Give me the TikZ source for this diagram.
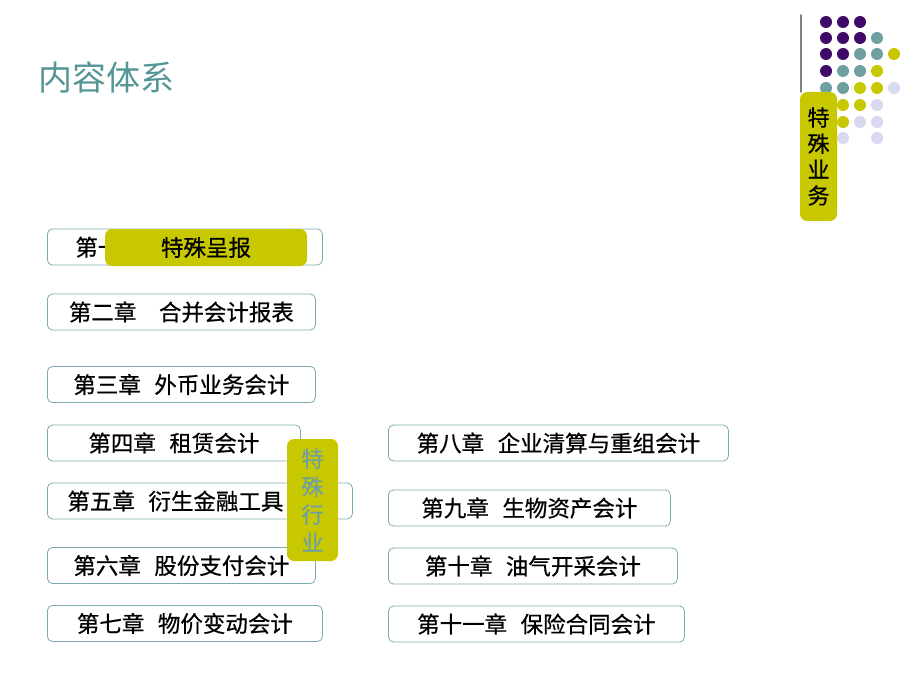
\documentclass[tikz,border=0pt]{standalone}
\usepackage{fontspec}
\usepackage{xcolor}
\usepackage{tikz}
\newfontfamily\cjk{Noto Sans CJK SC}
\newfontfamily\cjkdark[FakeBold=0.6]{Noto Sans CJK SC}
\definecolor{boxline}{RGB}{125,172,176}
\definecolor{hiyellow}{RGB}{200,200,0}
\definecolor{titleteal}{RGB}{84,150,150}
\definecolor{dotpurple}{RGB}{64,10,104}
\definecolor{dotteal}{RGB}{111,160,160}
\definecolor{dotlav}{RGB}{216,216,240}

\begin{document}
\begin{tikzpicture}[x=1pt,y=-1pt,line cap=round,line join=round,
  chap/.style={draw=boxline,line width=0.8pt,rounded corners=5pt,anchor=west,
    minimum height=36pt,inner ysep=0pt,font=\cjkdark\fontsize{22.5}{22.5}\selectfont},
  hilite/.style={fill=hiyellow,rounded corners=7pt,inner sep=0pt,align=center}]
\useasboundingbox (0,0) rectangle (920,690);
\node[anchor=west,inner sep=0pt,text=titleteal,font=\cjk\fontsize{34}{34}\selectfont] (title) at (38,77) {内容体系};
\draw[gray,line width=1.6pt] (801,15) -- (801,92);
\foreach \p in {(826,22),(843,22),(860,22),(826,38),(843,38),(860,38),(826,54),(843,54),(826,71)}
  \fill[dotpurple] \p circle (6);
\foreach \p in {(877,38),(860,54),(877,54),(843,71),(860,71),(826,88),(843,88)}
  \fill[dotteal] \p circle (6);
\foreach \p in {(894,54),(877,71),(860,88),(877,88),(843,105),(860,105),(843,122)}
  \fill[hiyellow] \p circle (6);
\foreach \p in {(894,88),(877,105),(860,122),(877,122),(843,138),(877,138)}
  \fill[dotlav] \p circle (6);
\node[hilite,minimum width=37,minimum height=129,font=\cjkdark\fontsize{22}{26}\selectfont] (sidetag) at (818.5,156.5) {特\\殊\\业\\务};
\node[chap,inner xsep=28pt,text width=219pt,align=left] (ch1) at (47,247) {第一章};
\node[hilite,minimum width=202,minimum height=37,font=\cjkdark\fontsize{22.5}{22.5}\selectfont] (tag1) at (206,247.5) {特殊呈报};
\node[chap,minimum width=268] (ch2) at (47,312) {第二章\hspace{1em}合并会计报表};
\node[chap,minimum width=268] (ch3) at (47,384.5) {第三章\hspace{0.6em}外币业务会计};
\node[chap,minimum width=253] (ch4) at (47,443) {第四章\hspace{0.6em}租赁会计};
\node[chap,inner xsep=20pt,text width=265pt,align=left] (ch5) at (47,501) {第五章\hspace{0.6em}衍生金融工具};
\node[chap,minimum width=268] (ch6) at (47,565.5) {第六章\hspace{0.6em}股份支付会计};
\node[chap,minimum width=275] (ch7) at (47,623.5) {第七章\hspace{0.6em}物价变动会计};
\node[chap,minimum width=340] (ch8) at (388,443) {第八章\hspace{0.6em}企业清算与重组会计};
\node[chap,minimum width=282] (ch9) at (388,508) {第九章\hspace{0.6em}生物资产会计};
\node[chap,minimum width=289] (ch10) at (388,566) {第十章\hspace{0.6em}油气开采会计};
\node[chap,minimum width=296] (ch11) at (388,624) {第十一章\hspace{0.6em}保险合同会计};
\node[hilite,minimum width=51,minimum height=122,text=dotteal,font=\cjkdark\fontsize{22}{28}\selectfont] (tag2) at (312.5,500) {特\\殊\\行\\业};
\end{tikzpicture}
\end{document}
